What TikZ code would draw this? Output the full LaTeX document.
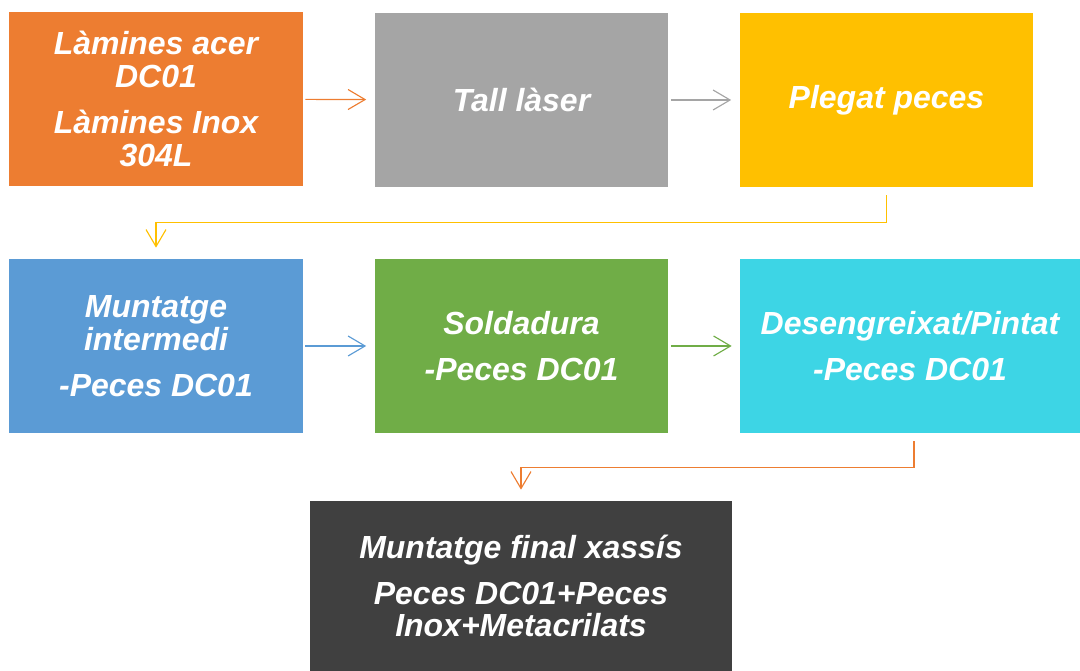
\documentclass[tikz,border=0pt]{standalone}
\usepackage{fontspec}
\setmainfont{Liberation Sans}
\usepackage{tikz}
\usetikzlibrary{arrows.meta,positioning,calc}
\definecolor{orangeA}{HTML}{ED7D31}
\definecolor{grayA}{HTML}{A5A5A5}
\definecolor{yellowA}{HTML}{FFC000}
\definecolor{blueA}{HTML}{5B9BD5}
\definecolor{greenA}{HTML}{70AD47}
\definecolor{cyanA}{HTML}{3DD5E5}
\definecolor{darkA}{HTML}{404040}
\tikzset{
  box/.style={draw=none,align=center,text=white,inner sep=2pt,
    font=\fontsize{18.2}{18.6}\selectfont\bfseries\itshape,
    minimum width=5.88cm,minimum height=3.48cm},
  arr/.style={-{Straight Barb[length=0.34cm,width=0.4cm]},line width=0.65pt,
    shorten <=0.04cm,shorten >=0.16cm},
  elbow/.style={arr,shorten <=0.16cm,shorten >=0.22cm},
}

\begin{document}
\begin{tikzpicture}[x=0.02cm,y=-0.02cm]
  \useasboundingbox (0,0) rectangle (1080,671);
  % first row
  \node[box,fill=orangeA] (lamines) at (156,99) {L\`amines acer\\DC01\\[7.5pt]L\`amines Inox\\304L};
  \node[box,fill=grayA] (tall) at (521.5,100) {Tall l\`aser};
  \node[box,fill=yellowA] (plegat) at (886.5,100) {Plegat peces};
  % second row
  \node[box,fill=blueA] (muntatge) at (156,346) {Muntatge\\intermedi\\[7.5pt]-Peces DC01};
  \node[box,fill=greenA] (soldadura) at (521.5,346) {Soldadura\\[7.5pt]-Peces DC01};
  \node[box,fill=cyanA,minimum width=6.8cm] (pintat) at (910,346) {Desengreixat/Pintat\\[7.5pt]-Peces DC01};
  % last row
  \node[box,fill=darkA,minimum width=8.44cm,minimum height=3.4cm] (final) at (521,586)
    {Muntatge final xass\'is\\[7.5pt]Peces DC01+Peces\\Inox+Metacrilats};

  \draw[arr,orangeA] (lamines) -- (tall);
  \draw[arr,grayA] (tall) -- (plegat);
  \draw[arr,blueA] (muntatge) -- (soldadura);
  \draw[arr,greenA] (soldadura) -- (pintat);
  \draw[elbow,yellowA] (plegat.south) -- ++(0,35) -| (muntatge.north);
  \draw[elbow,orangeA] ([xshift=0.08cm]pintat.south) -- ++(0,34) -| (final.north);
\end{tikzpicture}
\end{document}
